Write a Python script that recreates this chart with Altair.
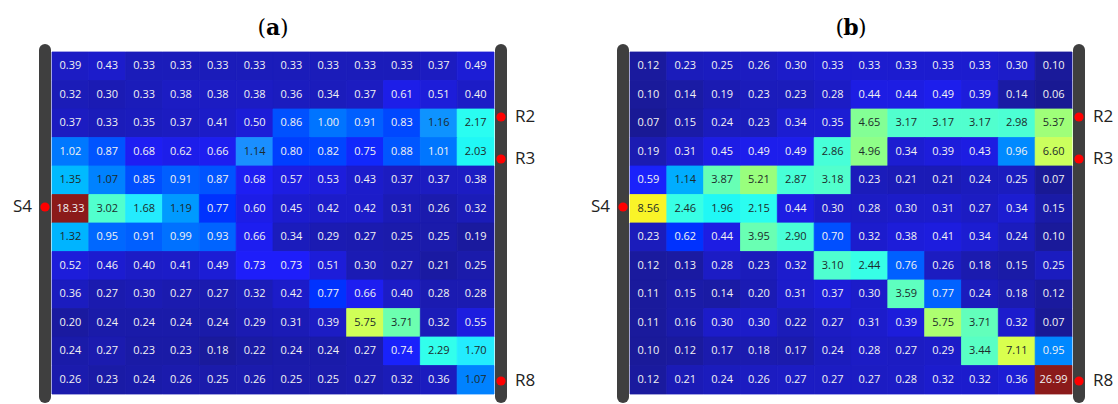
import altair as alt
import pandas as pd

# Cell values, one list per row (top to bottom), 12 columns each
PANEL_A_ROWS = [
    [0.39, 0.43, 0.33, 0.33, 0.33, 0.33, 0.33, 0.33, 0.33, 0.33, 0.37, 0.49],
    [0.32, 0.30, 0.33, 0.38, 0.38, 0.38, 0.36, 0.34, 0.37, 0.61, 0.51, 0.40],
    [0.37, 0.33, 0.35, 0.37, 0.41, 0.50, 0.86, 1.00, 0.91, 0.83, 1.16, 2.17],
    [1.02, 0.87, 0.68, 0.62, 0.66, 1.14, 0.80, 0.82, 0.75, 0.88, 1.01, 2.03],
    [1.35, 1.07, 0.85, 0.91, 0.87, 0.68, 0.57, 0.53, 0.43, 0.37, 0.37, 0.38],
    [18.33, 3.02, 1.68, 1.19, 0.77, 0.60, 0.45, 0.42, 0.42, 0.31, 0.26, 0.32],
    [1.32, 0.95, 0.91, 0.99, 0.93, 0.66, 0.34, 0.29, 0.27, 0.25, 0.25, 0.19],
    [0.52, 0.46, 0.40, 0.41, 0.49, 0.73, 0.73, 0.51, 0.30, 0.27, 0.21, 0.25],
    [0.36, 0.27, 0.30, 0.27, 0.27, 0.32, 0.42, 0.77, 0.66, 0.40, 0.28, 0.28],
    [0.20, 0.24, 0.24, 0.24, 0.24, 0.29, 0.31, 0.39, 5.75, 3.71, 0.32, 0.55],
    [0.24, 0.27, 0.23, 0.23, 0.18, 0.22, 0.24, 0.24, 0.27, 0.74, 2.29, 1.70],
    [0.26, 0.23, 0.24, 0.26, 0.25, 0.26, 0.25, 0.25, 0.27, 0.32, 0.36, 1.07],
]

PANEL_B_ROWS = [
    [0.12, 0.23, 0.25, 0.26, 0.30, 0.33, 0.33, 0.33, 0.33, 0.33, 0.30, 0.10],
    [0.10, 0.14, 0.19, 0.23, 0.23, 0.28, 0.44, 0.44, 0.49, 0.39, 0.14, 0.06],
    [0.07, 0.15, 0.24, 0.23, 0.34, 0.35, 4.65, 3.17, 3.17, 3.17, 2.98, 5.37],
    [0.19, 0.31, 0.45, 0.49, 0.49, 2.86, 4.96, 0.34, 0.39, 0.43, 0.96, 6.60],
    [0.59, 1.14, 3.87, 5.21, 2.87, 3.18, 0.23, 0.21, 0.21, 0.24, 0.25, 0.07],
    [8.56, 2.46, 1.96, 2.15, 0.44, 0.30, 0.28, 0.30, 0.31, 0.27, 0.34, 0.15],
    [0.23, 0.62, 0.44, 3.95, 2.90, 0.70, 0.32, 0.38, 0.41, 0.34, 0.24, 0.10],
    [0.12, 0.13, 0.28, 0.23, 0.32, 3.10, 2.44, 0.76, 0.26, 0.18, 0.15, 0.25],
    [0.11, 0.15, 0.14, 0.20, 0.31, 0.37, 0.30, 3.59, 0.77, 0.24, 0.18, 0.12],
    [0.11, 0.16, 0.30, 0.30, 0.22, 0.27, 0.31, 0.39, 5.75, 3.71, 0.32, 0.07],
    [0.10, 0.12, 0.17, 0.18, 0.17, 0.24, 0.28, 0.27, 0.29, 3.44, 7.11, 0.95],
    [0.12, 0.21, 0.24, 0.26, 0.27, 0.27, 0.27, 0.28, 0.32, 0.32, 0.36, 26.99],
]

PANEL_LETTERS = ["a", "b"]
SOURCE_LABEL = "S4"
RECEIVER_LABELS = ["R2", "R3", "R8"]

# jet-style colour ramp
JET = [
    "#14146e", "#181888", "#1a1a9c", "#1c1cc8", "#1e1efa", "#1e90ff",
    "#26eaff", "#30ffee", "#4effd2", "#6cffb0", "#98ff7e", "#c8ff60",
    "#f4ff30", "#ffe020", "#ffb020", "#ff8020", "#ff5020", "#f02020",
    "#c81a1a", "#a81a1a", "#8b1a1a",
]

W, H = 442, 342
ELECTRODE = "#3f3f3f"
SANS = "Open Sans"
SERIF = "DejaVu Serif"

one = pd.DataFrame({"k": [0]})


def heat_panel(rows, letter, exponent, right_pad):
    vmax = max(max(r) for r in rows)
    df = pd.DataFrame(
        [
            {"row": i, "col": j, "v": v, "label": f"{v:.2f}"}
            for i, r in enumerate(rows)
            for j, v in enumerate(r)
        ]
    )
    x = alt.X("col:O", axis=None, scale=alt.Scale(paddingInner=0, paddingOuter=0))
    y = alt.Y("row:O", axis=None, scale=alt.Scale(paddingInner=0, paddingOuter=0))
    ramp = alt.Scale(type="pow", exponent=exponent, domain=[0, vmax], range=JET)

    # white backdrop that also fixes the panel's outer extent
    back = alt.Chart(one).mark_rect(color="white").encode(
        x=alt.value(-52 if right_pad == 0 else 0),
        x2=alt.value(W + right_pad),
        y=alt.value(-52),
        y2=alt.value(H + 10),
    )

    # cells: outline in the fill colour so neighbouring cells meet without seams
    cells = alt.Chart(df).mark_rect(strokeWidth=0.8).encode(
        x=x,
        y=y,
        color=alt.Color("v:Q", scale=ramp, legend=None),
        stroke=alt.Stroke("v:Q", scale=ramp, legend=None),
    )

    values = alt.Chart(df).mark_text(font=SANS, fontSize=11).encode(
        x=x,
        y=y,
        text="label:N",
        color=alt.condition(
            f"datum.v >= 1.05 && datum.v < {0.6 * vmax}",
            alt.value("#1d2b2b"),
            alt.value("#f2f2f2"),
        ),
    )

    # electrode strips on both sides
    strips = [
        alt.Chart(one).mark_rule(strokeWidth=12, strokeCap="round", color=ELECTRODE).encode(
            x=alt.value(sx), y=alt.value(-2), y2=alt.value(H + 3)
        )
        for sx in (-7, W + 7)
    ]

    # source / receiver markers
    marks = []
    spots = [(SOURCE_LABEL, -7, 155, "right", -20)] + [
        (lab, W + 7, py, "left", W + 21)
        for lab, py in zip(RECEIVER_LABELS, (65, 107, 329))
    ]
    for lab, dx, py, align, tx in spots:
        marks.append(
            alt.Chart(one).mark_circle(size=85, color="#ff0000", opacity=1).encode(
                x=alt.value(dx), y=alt.value(py)
            )
        )
        marks.append(
            alt.Chart(one)
            .mark_text(font=SANS, fontSize=17, align=align, baseline="middle", color="#222222")
            .encode(x=alt.value(tx), y=alt.value(py), text=alt.value(lab))
        )

    # panel caption "(x)" with a bold letter
    cx = W / 2
    caption = [
        alt.Chart(one).mark_text(font=SERIF, fontSize=22, align="right", baseline="alphabetic", color="black")
        .encode(x=alt.value(cx - 7), y=alt.value(-17), text=alt.value("(")),
        alt.Chart(one).mark_text(font=SERIF, fontSize=22, fontWeight="bold", align="center", baseline="alphabetic", color="black")
        .encode(x=alt.value(cx), y=alt.value(-17), text=alt.value(letter)),
        alt.Chart(one).mark_text(font=SERIF, fontSize=22, align="left", baseline="alphabetic", color="black")
        .encode(x=alt.value(cx + 7), y=alt.value(-17), text=alt.value(")")),
    ]

    return alt.layer(back, cells, values, *strips, *marks, *caption).properties(width=W, height=H)


panel_a = heat_panel(PANEL_A_ROWS, PANEL_LETTERS[0], 0.5, 0)
panel_b = heat_panel(PANEL_B_ROWS, PANEL_LETTERS[1], 0.42, 1118 - 630 - W)

chart = (
    alt.hconcat(panel_a, panel_b, spacing=136, bounds="flush")
    .resolve_scale(color="independent", stroke="independent", x="independent", y="independent")
    .properties(padding=0, background="white")
    .configure_view(stroke=None)
)

chart.save("out.html", embed_options={"renderer": "svg", "actions": False})
